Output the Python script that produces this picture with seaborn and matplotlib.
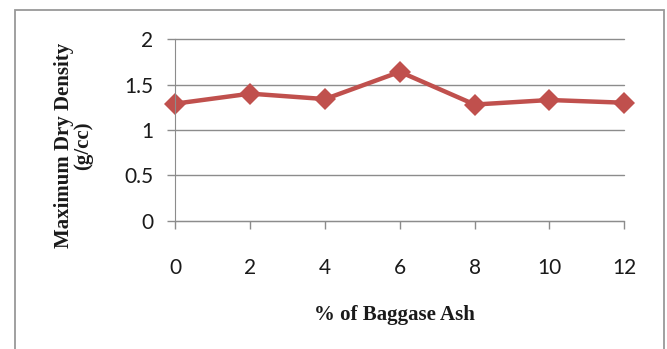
import matplotlib
matplotlib.use("Agg")
import matplotlib.pyplot as plt
import seaborn as sns
import pandas as pd
from matplotlib.patches import Rectangle

ash_pct = [0, 2, 4, 6, 8, 10, 12]
mdd = [1.29, 1.40, 1.34, 1.64, 1.28, 1.33, 1.30]
y_ticks = [0, 0.5, 1, 1.5, 2]
y_tick_labels = ["0", "0.5", "1", "1.5", "2"]

df = pd.DataFrame({"ash": ash_pct, "mdd": mdd})

sns.set_style("white")
fig = plt.figure(figsize=(6.67, 3.49), dpi=100)
ax = fig.add_axes([0.263, 0.367, 0.673, 0.521])

sns.lineplot(data=df, x="ash", y="mdd", ax=ax, color="#C0504D", linewidth=3.2,
             marker="D", markersize=11, markeredgecolor="#C0504D", markeredgewidth=0,
             clip_on=False)

ax.set_xlim(0, 12)
ax.set_ylim(0, 2)
ax.set_yticks(y_ticks)
ax.set_yticklabels(y_tick_labels)
ax.set_xticks(ash_pct)
ax.set_xticklabels([str(v) for v in ash_pct])
for y in y_ticks:
    ax.axhline(y, color="#8C8C8C", linewidth=1.0, zorder=0, clip_on=False)
for s in ["top", "right"]:
    ax.spines[s].set_visible(False)
ax.spines["left"].set_color("#8C8C8C")
ax.spines["bottom"].set_color("#8C8C8C")
ax.tick_params(axis="x", length=6, width=1, color="#8C8C8C", pad=21, labelsize=15,
               labelcolor="#1a1a1a", direction="out", bottom=True)
ax.tick_params(axis="y", length=6, width=1, color="#8C8C8C", pad=10, labelsize=15,
               labelcolor="#1a1a1a", direction="out", left=True)
for lbl in ax.get_xticklabels() + ax.get_yticklabels():
    lbl.set_fontfamily("Lato")

ax.set_xlabel("% of Baggase Ash", fontfamily="Liberation Serif", fontweight="bold",
              fontsize=15, color="#1a1a1a")
ax.xaxis.set_label_coords(0.487, -0.46)
ax.set_ylabel("Maximum Dry Density\n(g/cc)", fontfamily="Liberation Serif",
              fontweight="bold", fontsize=15, linespacing=0.95, color="#1a1a1a")
ax.yaxis.set_label_coords(-0.183, 0.415)

fig.patches.append(Rectangle((15 / 667, -0.1), 649 / 667, 1 - 10 / 349 + 0.1,
                             transform=fig.transFigure, fill=False,
                             edgecolor="#999999", linewidth=1.3))

fig.savefig("out.png", dpi=100)
